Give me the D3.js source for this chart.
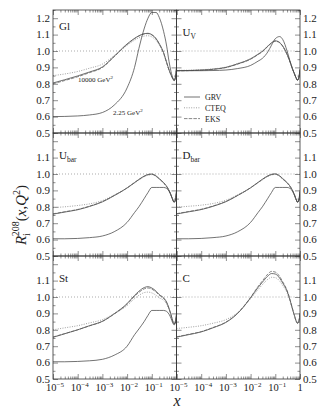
<!DOCTYPE html>
<html>
<head>
<meta charset="utf-8">
<script src="https://cdn.jsdelivr.net/npm/d3@7"></script>
<style>
  body { margin: 0; background: #fff; }
  text { font-family: "Liberation Serif", "DejaVu Serif", serif; fill: #222; }
</style>
</head>
<body>
<div id="figure"></div>
<script>
const width = 327,
      height = 415;

// Common x grid of the curves.
const xs = [1e-5, 3e-5, 1e-4, 3e-4, 1e-3, 3e-3, 0.01, 0.02, 0.03, 0.05, 0.07, 0.1,
            0.15, 0.2, 0.3, 0.4, 0.5, 0.6, 0.7, 0.8, 0.9, 1];

// Gluon
const glQ0   = [0.600, 0.601, 0.604, 0.610, 0.625, 0.670, 0.775, 0.900, 1.015, 1.140, 1.200, 1.235, 1.235, 1.205, 1.120, 1.030, 0.935, 0.875, 0.838, 0.822, 0.840, 0.900];
const glGRV  = [0.805, 0.825, 0.848, 0.872, 0.903, 0.968, 1.043, 1.077, 1.093, 1.106, 1.108, 1.100, 1.075, 1.045, 0.990, 0.930, 0.885, 0.855, 0.833, 0.820, 0.835, 0.890];
const glCTEQ = [0.850, 0.860, 0.875, 0.895, 0.920, 0.972, 1.035, 1.066, 1.080, 1.091, 1.093, 1.086, 1.064, 1.037, 0.985, 0.927, 0.883, 0.854, 0.832, 0.820, 0.835, 0.890];
const glEKS  = [0.800, 0.820, 0.843, 0.868, 0.899, 0.965, 1.040, 1.075, 1.091, 1.104, 1.106, 1.098, 1.073, 1.043, 0.988, 0.928, 0.883, 0.853, 0.832, 0.820, 0.835, 0.890];

// U valence
const uvQ0   = [0.880, 0.880, 0.880, 0.881, 0.884, 0.893, 0.912, 0.938, 0.955, 0.995, 1.035, 1.075, 1.088, 1.070, 1.000, 0.935, 0.890, 0.860, 0.835, 0.822, 0.840, 0.890];
const uvGRV  = [0.880, 0.881, 0.884, 0.889, 0.900, 0.922, 0.952, 0.980, 0.998, 1.030, 1.050, 1.062, 1.052, 1.030, 0.980, 0.932, 0.890, 0.860, 0.835, 0.822, 0.838, 0.885];
const uvCTEQ = [0.882, 0.883, 0.886, 0.891, 0.902, 0.924, 0.954, 0.982, 1.000, 1.031, 1.050, 1.060, 1.050, 1.028, 0.978, 0.930, 0.888, 0.858, 0.834, 0.822, 0.838, 0.885];
const uvEKS  = [0.879, 0.880, 0.883, 0.888, 0.899, 0.920, 0.950, 0.978, 0.996, 1.028, 1.048, 1.060, 1.051, 1.029, 0.979, 0.931, 0.889, 0.859, 0.834, 0.822, 0.838, 0.885];

// U bar
const ubQ0   = [0.605, 0.605, 0.607, 0.612, 0.622, 0.648, 0.705, 0.765, 0.800, 0.852, 0.887, 0.918, 0.918, 0.918, 0.918, 0.912, 0.895, 0.870, 0.843, 0.828, 0.842, 0.900];
const ubGRV  = [0.755, 0.768, 0.782, 0.802, 0.830, 0.868, 0.915, 0.948, 0.967, 0.988, 0.997, 1.000, 0.988, 0.972, 0.948, 0.925, 0.900, 0.872, 0.845, 0.828, 0.840, 0.890];
const ubCTEQ = [0.795, 0.800, 0.808, 0.818, 0.838, 0.872, 0.915, 0.945, 0.963, 0.984, 0.993, 0.996, 0.984, 0.968, 0.944, 0.921, 0.897, 0.870, 0.844, 0.828, 0.840, 0.890];
const ubEKS  = [0.757, 0.770, 0.784, 0.804, 0.832, 0.869, 0.915, 0.947, 0.966, 0.986, 0.995, 0.998, 0.986, 0.970, 0.946, 0.923, 0.898, 0.871, 0.844, 0.828, 0.840, 0.890];

// D bar
const dbQ0   = [0.605, 0.605, 0.607, 0.612, 0.622, 0.648, 0.705, 0.765, 0.800, 0.852, 0.887, 0.918, 0.918, 0.918, 0.918, 0.912, 0.895, 0.870, 0.843, 0.828, 0.842, 0.900];
const dbGRV  = [0.756, 0.769, 0.783, 0.803, 0.831, 0.869, 0.916, 0.949, 0.968, 0.989, 0.998, 1.001, 0.989, 0.972, 0.948, 0.925, 0.900, 0.872, 0.845, 0.828, 0.840, 0.890];
const dbCTEQ = [0.798, 0.803, 0.810, 0.820, 0.840, 0.873, 0.916, 0.946, 0.964, 0.985, 0.994, 0.997, 0.985, 0.968, 0.944, 0.921, 0.897, 0.870, 0.844, 0.828, 0.840, 0.890];
const dbEKS  = [0.758, 0.771, 0.785, 0.805, 0.833, 0.870, 0.916, 0.948, 0.967, 0.987, 0.996, 0.999, 0.987, 0.970, 0.946, 0.923, 0.898, 0.871, 0.844, 0.828, 0.840, 0.890];

// Strange
const stQ0   = [0.605, 0.605, 0.607, 0.611, 0.620, 0.645, 0.700, 0.770, 0.805, 0.852, 0.888, 0.918, 0.918, 0.918, 0.918, 0.912, 0.895, 0.870, 0.843, 0.830, 0.842, 0.900];
const stGRV  = [0.754, 0.776, 0.800, 0.825, 0.852, 0.898, 0.960, 1.010, 1.035, 1.058, 1.063, 1.055, 1.035, 1.015, 0.995, 0.968, 0.930, 0.892, 0.855, 0.836, 0.845, 0.890];
const stCTEQ = [0.800, 0.812, 0.825, 0.842, 0.862, 0.898, 0.948, 0.990, 1.010, 1.027, 1.030, 1.025, 1.010, 0.995, 0.980, 0.957, 0.924, 0.889, 0.854, 0.836, 0.845, 0.890];
const stEKS  = [0.756, 0.777, 0.800, 0.824, 0.851, 0.896, 0.956, 1.004, 1.028, 1.050, 1.055, 1.048, 1.030, 1.011, 0.992, 0.965, 0.928, 0.891, 0.855, 0.836, 0.845, 0.890];

// Charm (no curve at the input scale)
const cGRV   = [0.755, 0.770, 0.787, 0.812, 0.845, 0.900, 0.995, 1.058, 1.090, 1.128, 1.143, 1.140, 1.115, 1.085, 1.035, 0.978, 0.925, 0.885, 0.853, 0.840, 0.852, 0.900];
const cCTEQ  = [0.808, 0.815, 0.825, 0.840, 0.862, 0.905, 0.990, 1.045, 1.075, 1.108, 1.120, 1.118, 1.097, 1.070, 1.025, 0.972, 0.922, 0.884, 0.852, 0.840, 0.852, 0.900];
const cEKS   = [0.757, 0.772, 0.789, 0.814, 0.847, 0.902, 0.998, 1.064, 1.098, 1.140, 1.156, 1.152, 1.125, 1.093, 1.040, 0.981, 0.927, 0.886, 0.853, 0.840, 0.852, 0.900];

const sets = ["GRV", "CTEQ", "EKS"];
const yTickLabels = [0.5, 0.6, 0.7, 0.8, 0.9, 1.0, 1.1, 1.2];

const panels = [
  {name: "Gl",  sub: "",    row: 0, col: 0, q0: glQ0, GRV: glGRV, CTEQ: glCTEQ, EKS: glEKS},
  {name: "U",   sub: "V",   row: 0, col: 1, q0: uvQ0, GRV: uvGRV, CTEQ: uvCTEQ, EKS: uvEKS},
  {name: "U",   sub: "bar", row: 1, col: 0, q0: ubQ0, GRV: ubGRV, CTEQ: ubCTEQ, EKS: ubEKS},
  {name: "D",   sub: "bar", row: 1, col: 1, q0: dbQ0, GRV: dbGRV, CTEQ: dbCTEQ, EKS: dbEKS},
  {name: "St",  sub: "",    row: 2, col: 0, q0: stQ0, GRV: stGRV, CTEQ: stCTEQ, EKS: stEKS},
  {name: "C",   sub: "",    row: 2, col: 1, q0: null, GRV: cGRV,  CTEQ: cCTEQ,  EKS: cEKS}
];

// Layout of the 3x2 grid.
const gridLeft = 53,
      gridTop = 10,
      colW = 123.5,
      rowH = 123;

const styles = {
  GRV:  {stroke: "#444", width: 0.75, dash: null},
  CTEQ: {stroke: "#888", width: 0.8, dash: "1,1.4"},
  EKS:  {stroke: "#555", width: 0.7, dash: "3.5,1.2"}
};

const svg = d3.select("#figure").append("svg")
    .attr("width", width)
    .attr("height", height);

const majorX = [1e-5, 1e-4, 1e-3, 1e-2, 1e-1, 1];
const minorX = [];
for (let n = -5; n < 0; n++) for (let k = 2; k < 10; k++) minorX.push(k * Math.pow(10, n));
const majorY = d3.range(5, 13).map(d => d / 10);
const minorY = d3.range(5, 13).map(d => d / 10 + 0.05);

function cleanAxis(g) {
  g.select(".domain").remove();
  g.selectAll(".tick line").attr("stroke", "#444").attr("stroke-width", 0.6);
}

panels.forEach(p => {
  const x0 = gridLeft + p.col * colW,
        y0 = gridTop + p.row * rowH;

  const x = d3.scaleLog().domain([1e-5, 1]).range([x0, x0 + colW]);
  const y = d3.scaleLinear().domain([0.5, 1.25]).range([y0 + rowH, y0]);

  const g = svg.append("g");

  // Dotted line at R = 1.
  g.append("line")
      .attr("x1", x0).attr("x2", x0 + colW)
      .attr("y1", y(1)).attr("y2", y(1))
      .attr("stroke", "#888")
      .attr("stroke-width", 0.7)
      .attr("stroke-dasharray", "1,2");

  // Inward ticks on all four sides.
  [[majorX, 5], [minorX, 2.5]].forEach(([vals, len]) => {
    g.append("g").attr("transform", `translate(0,${y0 + rowH})`)
        .call(d3.axisBottom(x).tickValues(vals).tickSize(-len).tickFormat(""))
        .call(cleanAxis);
    g.append("g").attr("transform", `translate(0,${y0})`)
        .call(d3.axisTop(x).tickValues(vals).tickSize(-len).tickFormat(""))
        .call(cleanAxis);
  });
  [[majorY, 5], [minorY, 2.5]].forEach(([vals, len]) => {
    g.append("g").attr("transform", `translate(${x0},0)`)
        .call(d3.axisLeft(y).tickValues(vals).tickSize(-len).tickFormat(""))
        .call(cleanAxis);
    g.append("g").attr("transform", `translate(${x0 + colW},0)`)
        .call(d3.axisRight(y).tickValues(vals).tickSize(-len).tickFormat(""))
        .call(cleanAxis);
  });

  // Y tick labels on the outer side.
  const labs = yTickLabels.filter(v => p.row === 0 || v < 1.15);
  g.append("g")
    .selectAll("text")
    .data(labs)
    .join("text")
      .attr("x", p.col === 0 ? x0 - 3 : x0 + colW + 3)
      .attr("y", d => y(d) + 3.8)
      .attr("text-anchor", p.col === 0 ? "end" : "start")
      .attr("font-size", 11)
      .text(d3.format(".1f"));

  // X tick labels on the bottom row.
  if (p.row === 2) {
    const xl = majorX.filter(v => p.col === 1 || v < 1);
    const t = g.append("g")
      .selectAll("text")
      .data(xl)
      .join("text")
        .attr("x", d => x(d) + (d < 1 ? 2 : 0))
        .attr("y", y0 + rowH + 12)
        .attr("text-anchor", "middle")
        .attr("font-size", 10.5);
    t.append("tspan").text(d => d < 1 ? "10" : "1");
    t.filter(d => d < 1).append("tspan")
        .attr("dy", -4.5)
        .attr("font-size", 7)
        .text(d => "\u2212" + Math.round(-Math.log10(d)));
  }

  // Curves.
  const line = d3.line()
      .x((d, i) => x(xs[i]))
      .y(d => y(d))
      .curve(d3.curveMonotoneX);

  const clip = "clip" + p.row + p.col;
  g.append("clipPath").attr("id", clip)
    .append("rect").attr("x", x0).attr("y", y0).attr("width", colW).attr("height", rowH);

  const curves = g.append("g").attr("clip-path", `url(#${clip})`).attr("fill", "none");
  sets.forEach(s => {
    curves.append("path")
        .attr("d", line(p[s]))
        .attr("stroke", styles[s].stroke)
        .attr("stroke-width", styles[s].width)
        .attr("stroke-dasharray", styles[s].dash);
  });
  if (p.q0) {
    curves.append("path")
        .attr("d", line(p.q0))
        .attr("stroke", "#444")
        .attr("stroke-width", 0.75);
  }

  // Frame.
  g.append("rect")
      .attr("x", x0).attr("y", y0)
      .attr("width", colW).attr("height", rowH)
      .attr("fill", "none")
      .attr("stroke", "#333")
      .attr("stroke-width", 0.8);

  // Panel name.
  const nm = g.append("text")
      .attr("x", x0 + 6)
      .attr("y", p.row === 0 && p.col === 0 ? y0 + 20 : y0 + 26)
      .attr("font-size", 11);
  nm.append("tspan").text(p.name);
  if (p.sub) nm.append("tspan").attr("dy", 2.5).attr("font-size", 7.5).text(p.sub);
});

// Q^2 labels in the gluon panel.
[["10000 GeV", 78, 82], ["2.25 GeV", 113, 115]].forEach(([t, tx, ty]) => {
  const el = svg.append("text").attr("x", tx).attr("y", ty).attr("font-size", 7);
  el.append("tspan").text(t);
  el.append("tspan").attr("dy", -3).attr("font-size", 5).text("2");
});

// Legend in the U_V panel.
const legend = svg.append("g").attr("transform", "translate(184,100)");
sets.forEach((s, i) => {
  legend.append("line")
      .attr("x1", 0).attr("x2", 16)
      .attr("y1", i * 10.8 - 3).attr("y2", i * 10.8 - 3)
      .attr("stroke", styles[s].stroke)
      .attr("stroke-width", styles[s].width)
      .attr("stroke-dasharray", styles[s].dash);
  legend.append("text")
      .attr("x", 21)
      .attr("y", i * 10.8)
      .attr("font-size", 8)
      .text(s);
});

// Axis titles.
const yt = svg.append("text")
    .attr("transform", "translate(26,215) rotate(-90)")
    .attr("text-anchor", "middle")
    .attr("font-size", 15);
yt.append("tspan").attr("font-style", "italic").text("R");
yt.append("tspan").attr("font-size", 10).attr("dy", 4).text("i");
yt.append("tspan").attr("font-size", 10).attr("dy", -11).attr("dx", -3).text("208");
yt.append("tspan").attr("dy", 7).text("(");
yt.append("tspan").attr("font-style", "italic").text("x");
yt.append("tspan").text(",");
yt.append("tspan").attr("font-style", "italic").text("Q");
yt.append("tspan").attr("font-size", 10).attr("dy", -6).text("2");
yt.append("tspan").attr("dy", 6).text(")");

svg.append("text")
    .attr("x", 177)
    .attr("y", 406)
    .attr("text-anchor", "middle")
    .attr("font-size", 16)
    .attr("font-style", "italic")
    .text("x");
</script>
</body>
</html>
